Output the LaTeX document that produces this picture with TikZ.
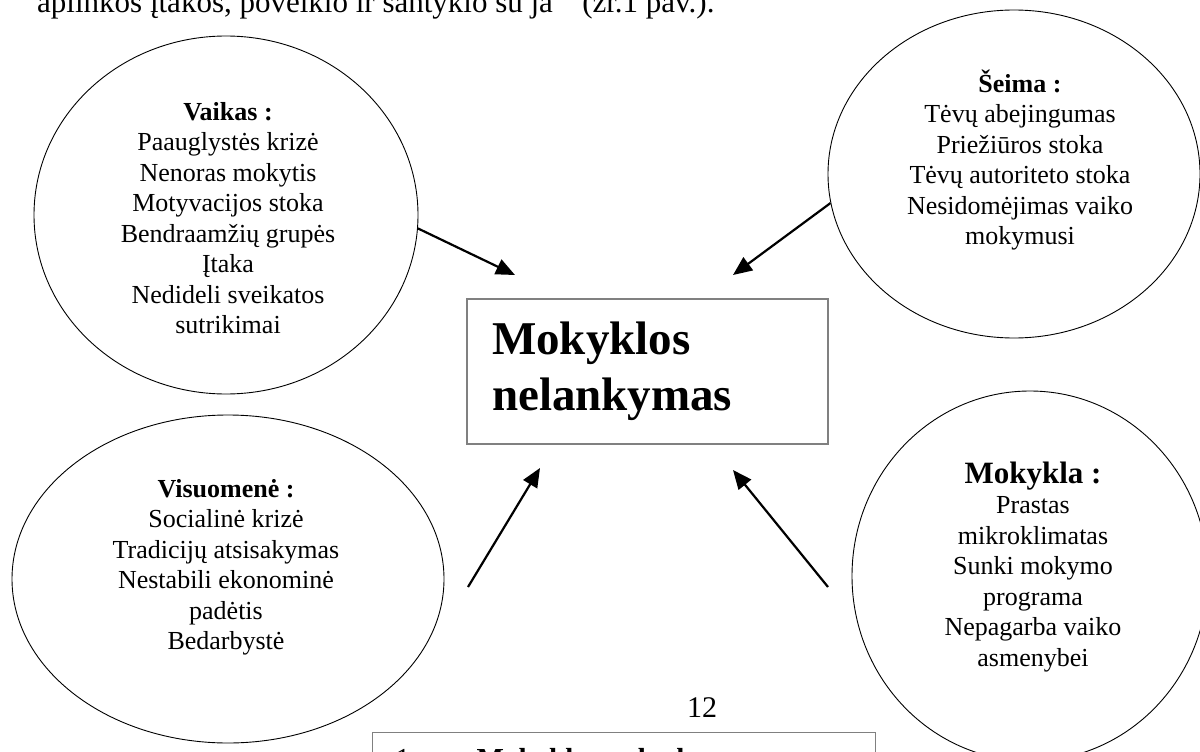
\documentclass[tikz,border=0pt]{standalone}
\usepackage{fontspec}
\setmainfont{Liberation Serif}
\usetikzlibrary{arrows.meta,shapes.geometric}

\begin{document}
\begin{tikzpicture}[x=1pt,y=-1pt]
    \useasboundingbox (0,0) rectangle (1200,752);
    \clip (0,0) rectangle (1200,752);

    \tikzset{EllipseStyle/.style={draw, ellipse, line width=0.9pt, inner sep=0pt}}
    \tikzset{ListStyle/.style={align=center, inner sep=0pt, font=\fontsize{26}{30.5}\selectfont}}
    \node[EllipseStyle, minimum width=384pt, minimum height=358pt] (vaikas) at (226,215) {};
    \node[EllipseStyle, minimum width=372pt, minimum height=328pt] (seima) at (1014,174) {};
    \node[EllipseStyle, minimum width=432pt, minimum height=328pt] (visuomene) at (228,579) {};
    \node[EllipseStyle, minimum width=356pt, minimum height=370pt] (mokykla) at (1030,576) {};

    \node[ListStyle] (vaikas-txt) at (228,218) {\textbf{Vaikas :}\\Paauglystės krizė\\Nenoras mokytis\\Motyvacijos stoka\\Bendraamžių grupės\\Įtaka\\Nedideli sveikatos\\sutrikimai};
    \node[ListStyle] (seima-txt) at (1020,160) {\textbf{Šeima :}\\Tėvų abejingumas\\Priežiūros stoka\\Tėvų autoriteto stoka\\Nesidomėjimas vaiko\\mokymusi};
    \node[ListStyle] (visuomene-txt) at (226,567.5) {\textbf{Visuomenė :}\\Socialinė krizė\\Tradicijų atsisakymas\\Nestabili ekonominė\\padėtis\\Bedarbystė};
    \node[ListStyle] (mokykla-txt) at (1033,567) {{\fontsize{31}{32}\selectfont\bfseries Mokykla :}\\Prastas\\mikroklimatas\\Sunki mokymo\\programa\\Nepagarba vaiko\\asmenybei};

    \tikzset{BoxStyle/.style={draw=black!50, line width=1.2pt, align=left, inner ysep=0pt}}
    \node[BoxStyle, minimum width=361pt, minimum height=145pt, text width=311pt, inner xsep=25pt,
          font=\fontsize{47}{56.5}\selectfont\bfseries] (nelankymas) at (647.5,371.5) {Mokyklos\\nelankymas};

    \coordinate (vaikas-tip) at (515,275);
    \coordinate (seima-tip) at (733,275);
    \coordinate (visuomene-tip) at (540,468);
    \coordinate (mokykla-tip) at (733,470);
    \coordinate (visuomene-tail) at (468,587);
    \coordinate (mokykla-tail) at (828,587);

    \tikzset{ArrowStyle/.style={line width=2.2pt, -{Triangle[length=19pt,width=16pt]}}}
    \draw[ArrowStyle] (vaikas.-4) -- (vaikas-tip);
    \draw[ArrowStyle] (seima.189) -- (seima-tip);
    \draw[ArrowStyle] (visuomene-tail) -- (visuomene-tip);
    \draw[ArrowStyle] (mokykla-tail) -- (mokykla-tip);

    \node[anchor=base west, inner sep=0pt, font=\fontsize{31}{36}\selectfont] (ivadas) at (37,13)
        {aplinkos įtakos, poveikio ir santykio su ja“\ \ (žr.1 pav.).};
    \node[anchor=base, inner sep=0pt, font=\fontsize{30}{36}\selectfont] (puslapis) at (702,717) {12};
    \node[BoxStyle, anchor=north west, minimum width=503pt, text width=457pt, inner xsep=23pt, inner ysep=16pt,
          font=\fontsize{29}{34}\selectfont] (antraste) at (372,732) {1 pav.\ \textbf{Mokyklos nelankymo priežastys}};
\end{tikzpicture}
\end{document}
